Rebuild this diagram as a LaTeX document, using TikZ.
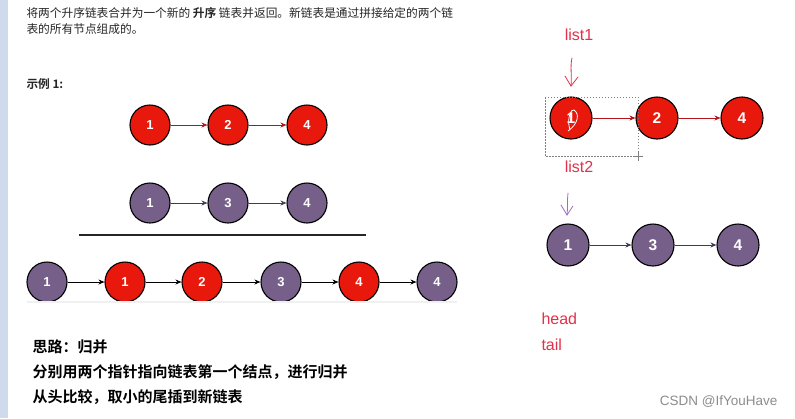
\documentclass[tikz,border=0pt]{standalone}
\usepackage{fontspec}
\setmainfont{Liberation Sans}
\newfontfamily\cjk{Noto Sans CJK SC}
\newfontfamily\cjkb{Noto Sans CJK SC Bold}
\usetikzlibrary{arrows.meta}
\definecolor{lred}{HTML}{E8190C}
\definecolor{lpur}{HTML}{76608A}
\definecolor{ared}{HTML}{B3141C}
\definecolor{apur}{HTML}{3E3A5A}
\definecolor{hand}{HTML}{E53049}
\definecolor{handp}{HTML}{A66BC4}
\definecolor{stripe}{HTML}{CFDAEC}
\tikzset{
  rn/.style={circle,draw=black,line width=1.1pt,fill=lred,minimum size=40pt,inner sep=0pt,text=white,font=\fontsize{13}{13}\selectfont\bfseries},
  pn/.style={rn,fill=lpur},
  rnb/.style={rn,minimum size=42pt,font=\fontsize{15.5}{15.5}\selectfont\bfseries},
  pnb/.style={rnb,fill=lpur},
  tip/.style={-{Stealth[length=6pt,width=5pt]}},
  body/.style={anchor=west,font=\cjk\fontsize{11.7}{11.7}\selectfont,text=black!85},
  idea/.style={anchor=west,font=\cjkb\fontsize{15}{15}\selectfont},
  handtxt/.style={font=\fontsize{16}{16}\selectfont,text=hand}
}
\begin{document}
\begin{tikzpicture}[x=1pt,y=-1pt]
\useasboundingbox (0,0) rectangle (795,418);
\fill[white] (0,0) rectangle (795,418);
\fill[stripe] (0,0) rectangle (8,418);
% description
\node[body] (t1) at (23,13) {将两个升序链表合并为一个新的 {\cjkb 升序} 链表并返回。新链表是通过拼接给定的两个链};
\node[body] (t2) at (23,29) {表的所有节点组成的。};
\node[body,font=\cjkb\fontsize{11.7}{11.7}\selectfont] (ex) at (23,84) {示例 1:};
% list 1
\node[rn] (a1) at (150,125) {1};
\node[rn] (a2) at (228,125) {2};
\node[rn] (a3) at (307,125) {4};
\draw[tip,ared,line width=0.8pt] (a1) -- (a2);
\draw[tip,ared,line width=0.8pt] (a2) -- (a3);
% list 2
\node[pn] (b1) at (150,203) {1};
\node[pn] (b2) at (228,203) {3};
\node[pn] (b3) at (307,203) {4};
\draw[tip,apur,line width=0.8pt] (b1) -- (b2);
\draw[tip,apur,line width=0.8pt] (b2) -- (b3);
% separator
\coordinate (s1) at (79,235);
\coordinate (s2) at (366,235);
\draw[line width=1.1pt,black!85] (s1) -- (s2);
% merged
\node[pn] (c1) at (47,282) {1};
\node[rn] (c2) at (125,282) {1};
\node[rn] (c3) at (202,282) {2};
\node[pn] (c4) at (281,282) {3};
\node[rn] (c5) at (359,282) {4};
\node[pn] (c6) at (437,282) {4};
\foreach \u/\v in {c1/c2,c2/c3,c3/c4,c4/c5,c5/c6}
  \draw[tip,black,line width=0.9pt] (\u) -- (\v);
\coordinate (g1) at (27,302);
\coordinate (g2) at (457,302);
\draw[line width=2.5pt,black!6] (g1) -- (g2);
% idea text
\node[idea] (i1) at (29,347) {思路：归并};
\node[idea] (i2) at (29,372) {分别用两个指针指向链表第一个结点，进行归并};
\node[idea] (i3) at (29,397) {从头比较，取小的尾插到新链表};
% right side
\node[handtxt] (l1) at (579,35) {list1};
\node[rnb] (d1) at (571,118) {1};
\node[rnb] (d2) at (657,118) {2};
\node[rnb] (d3) at (742,118) {4};
\draw[tip,ared,line width=0.8pt] (d1) -- (d2);
\draw[tip,ared,line width=0.8pt] (d2) -- (d3);
\draw[white,line width=0.8pt] (570,130) .. controls (566,118) and (572,108) .. (574,110) .. controls (580,114) and (578,124) .. (568,131);
\coordinate (h1) at (572,58);
\coordinate (h2) at (571,86);
\draw[hand,line width=0.8pt,line cap=round] (h1) .. controls (570,66) and (572,76) .. (h2);
\draw[hand,line width=0.8pt,line cap=round] (565,76) -- (h2) -- (578,77);
\draw[gray,dashed,dash pattern=on 1.5pt off 1.5pt,line width=0.6pt] (545,97) rectangle (638,156);
\draw[gray,line width=0.5pt] (633,156) -- (643,156) (638,151) -- (638,161);
\node[handtxt] (l2) at (579,167) {list2};
\coordinate (p1) at (568,193);
\coordinate (p2) at (567,215);
\draw[handp,line width=0.8pt,line cap=round] (p1) .. controls (567,200) and (568,208) .. (p2);
\draw[handp,line width=0.8pt,line cap=round] (561,205) -- (p2) -- (573,206);
\node[pnb] (e1) at (568,245) {1};
\node[pnb] (e2) at (653,245) {3};
\node[pnb] (e3) at (738,245) {4};
\draw[tip,apur,line width=0.8pt] (e1) -- (e2);
\draw[tip,apur,line width=0.8pt] (e2) -- (e3);
\node[handtxt,anchor=west] (hd) at (538,319) {head};
\node[handtxt,anchor=west] (tl) at (538,345) {tail};
\node[anchor=east,font=\fontsize{13.5}{13.5}\selectfont,text=black!45] (wm) at (781,402) {CSDN @IfYouHave};
\end{tikzpicture}
\end{document}
